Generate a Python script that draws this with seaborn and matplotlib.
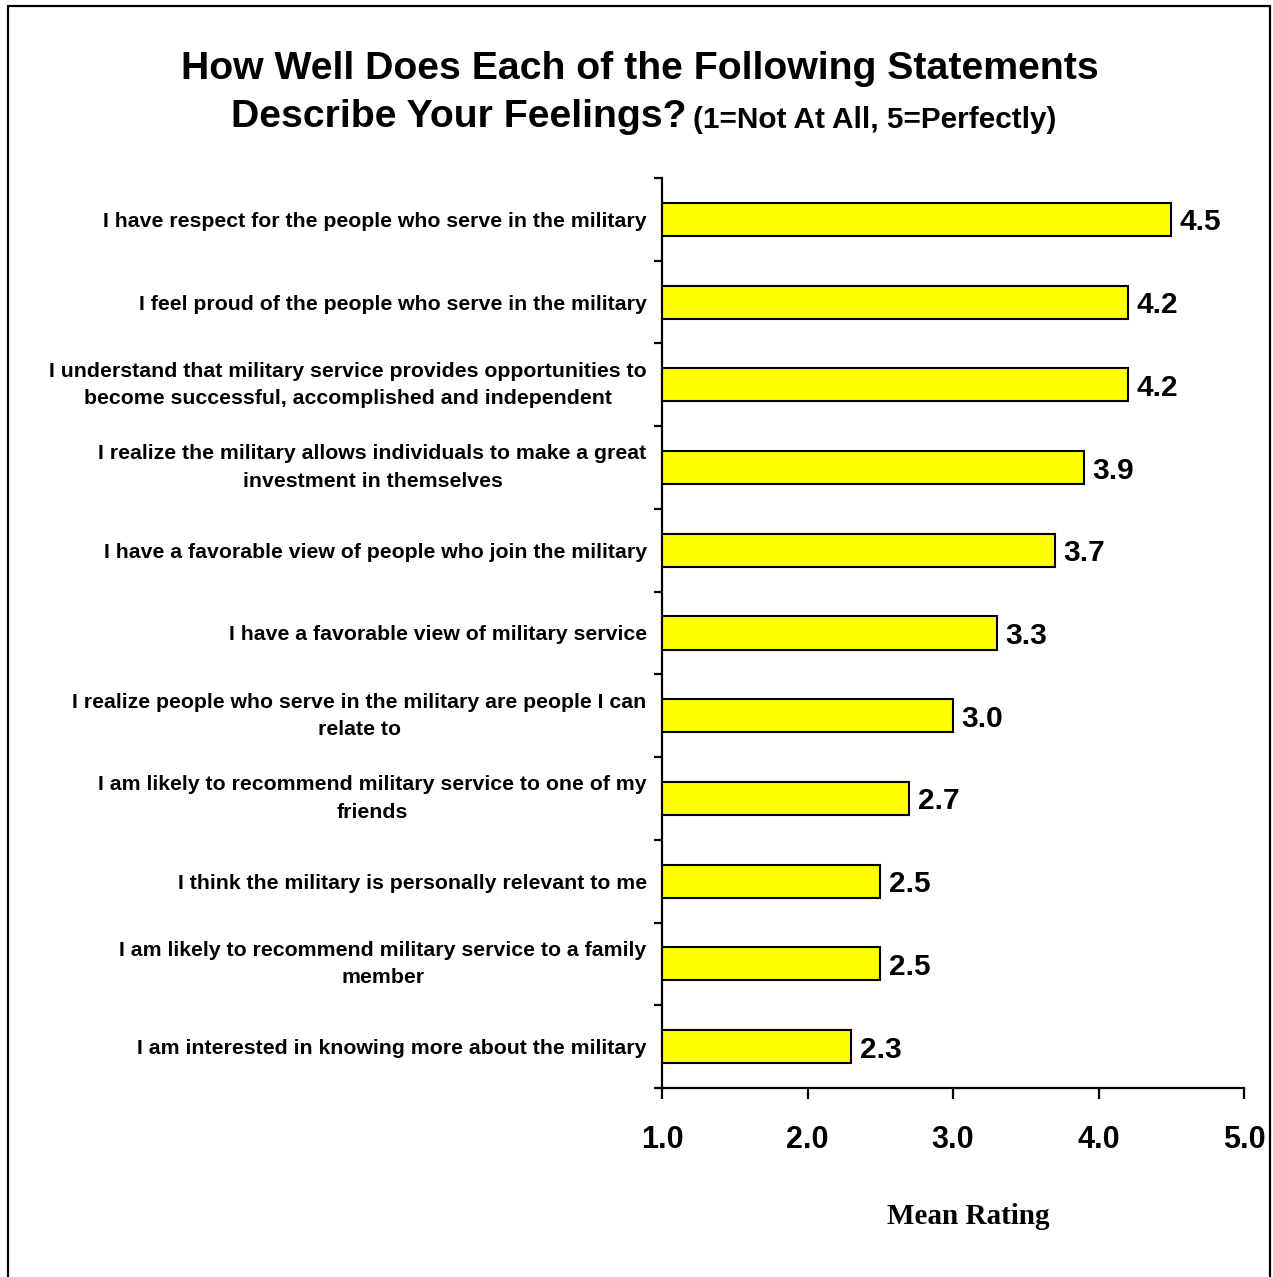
import matplotlib
matplotlib.use("Agg")
import matplotlib.pyplot as plt
from matplotlib.lines import Line2D
from matplotlib.ticker import FixedLocator
import seaborn as sns
import pandas as pd

statements = [
    "I have respect for the people who serve in the military",
    "I feel proud of the people who serve in the military",
    "I understand that military service provides opportunities to\nbecome successful, accomplished and independent",
    "I realize the military allows individuals to make a great\ninvestment in themselves",
    "I have a favorable view of people who join the military",
    "I have a favorable view of military service",
    "I realize people who serve in the military are people I can\nrelate to",
    "I am likely to recommend military service to one of my\nfriends",
    "I think the military is personally relevant to me",
    "I am likely to recommend military service to a family\nmember",
    "I am interested in knowing more about the military",
]
mean_ratings = [4.5, 4.2, 4.2, 3.9, 3.7, 3.3, 3.0, 2.7, 2.5, 2.5, 2.3]
x_ticks = [1.0, 2.0, 3.0, 4.0, 5.0]
x_tick_labels = ["1.0", "2.0", "3.0", "4.0", "5.0"]

df = pd.DataFrame({"statement": statements, "rating": mean_ratings})

sns.set_theme(style="white")
plt.rcParams["font.family"] = ["Liberation Sans", "DejaVu Sans"]
plt.rcParams["text.color"] = "black"
plt.rcParams["xtick.color"] = "black"
plt.rcParams["ytick.color"] = "black"
plt.rcParams["axes.labelcolor"] = "black"

W, H = 1273, 1277
fig = plt.figure(figsize=(W / 100, H / 100), dpi=100)
fig.patch.set_facecolor("white")

# axes placed in pixel terms
left, right, top, bottom = 662, 1244, 178, 1088
ax = fig.add_axes([left / W, 1 - bottom / H, (right - left) / W, (bottom - top) / H])

sns.barplot(data=df, y="statement", x="rating", orient="h", ax=ax,
            color="#FFFF00", edgecolor="black", linewidth=1.5, width=0.4,
            saturation=1)

ax.set_xlim(1.0, 5.0)
ax.set_ylim(len(statements) - 0.5, -0.5)

for i, v in enumerate(mean_ratings):
    ax.text(v + 0.06, i, f"{v:.1f}", va="center_baseline", ha="left",
            fontsize=21.5, fontweight="bold", color="black")

# axis styling
for side in ["top", "right"]:
    ax.spines[side].set_visible(False)
for side in ["left", "bottom"]:
    ax.spines[side].set_linewidth(1.6)
    ax.spines[side].set_color("black")

ax.set_xticks(x_ticks)
ax.set_xticklabels(x_tick_labels, fontsize=22, fontweight="bold")
ax.tick_params(axis="x", which="major", bottom=True, direction="out", length=8,
               width=1.6, color="black", pad=19, labelcolor="black")

ax.set_yticks(range(len(statements)))
ax.set_yticklabels(statements, fontsize=15.3, fontweight="bold",
                   multialignment="center", linespacing=1.55)
for lab in ax.get_yticklabels():
    if "\n" in lab.get_text():
        lab.set_verticalalignment("center")
ax.tick_params(axis="y", which="major", length=0, pad=11, labelcolor="black")
ax.yaxis.set_minor_locator(FixedLocator([i - 0.5 for i in range(len(statements) + 1)]))
ax.tick_params(axis="y", which="minor", direction="out", length=5.5, width=1.6,
               color="black", left=True)

ax.set_xlabel("")
ax.set_ylabel("")

# titles
fig.text(640 / W, 1 - 69 / H, "How Well Does Each of the Following Statements",
         ha="center", va="center", fontsize=28.3, fontweight="bold")
fig.text(686 / W, 1 - 117 / H, "Describe Your Feelings?",
         ha="right", va="center", fontsize=28.3, fontweight="bold")
fig.text(693 / W, 1 - 120 / H, "(1=Not At All, 5=Perfectly)",
         ha="left", va="center", fontsize=21.4, fontweight="bold")

fig.text(968 / W, 1 - 1217 / H, "Mean Rating", ha="center", va="center",
         fontsize=21, fontweight="bold", family=["Liberation Serif", "DejaVu Serif"])

# outer frame (left, top, right)
lw = 1.6
fx0, fx1, fy1 = 8 / W, 1270 / W, 1 - 6 / H
fig.add_artist(Line2D([fx0, fx0], [0, fy1], transform=fig.transFigure, color="black", lw=lw))
fig.add_artist(Line2D([fx1, fx1], [0, fy1], transform=fig.transFigure, color="black", lw=lw))
fig.add_artist(Line2D([fx0, fx1], [fy1, fy1], transform=fig.transFigure, color="black", lw=lw))

fig.savefig("out.png", dpi=100)
